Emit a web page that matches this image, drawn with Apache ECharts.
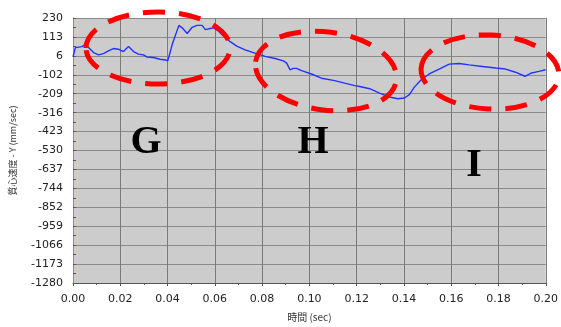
<!DOCTYPE html>
<html>
<head>
<meta charset="utf-8">
<script src="https://cdn.jsdelivr.net/npm/echarts@6/dist/echarts.min.js"></script>
<style>
html,body{margin:0;padding:0;background:#fff;}
#c{width:561px;height:327px;}
</style>
</head>
<body>
<div id="c"></div>
<script>
// time (sec)
var timeSec = [0.0000,0.0010,0.0038,0.0052,0.0087,0.0108,0.0129,0.0150,0.0171,0.0192,0.0213,0.0235,0.0256,0.0277,0.0298,0.0312,0.0340,0.0368,0.0392,0.0401,0.0420,0.0448,0.0462,0.0483,0.0504,0.0525,0.0546,0.0560,0.0581,0.0595,0.0616,0.0637,0.0665,0.0693,0.0728,0.0763,0.0813,0.0855,0.0890,0.0904,0.0918,0.0932,0.0946,0.0967,0.1009,0.1051,0.1107,0.1149,0.1192,0.1213,0.1255,0.1297,0.1339,0.1374,0.1402,0.1423,0.1444,0.1472,0.1507,0.1549,0.1592,0.1634,0.1676,0.1732,0.1788,0.1830,0.1872,0.1912,0.1936,0.1971,0.1999];
// COM velocity Y (mm/sec)
var velocityY = [8,61,67,80,33,20,27,42,56,52,39,67,39,24,20,8,5,-5,-9,-14,80,188,174,142,177,188,188,164,170,174,155,126,95,70,48,33,11,-1,-14,-27,-65,-57,-57,-70,-89,-113,-127,-141,-155,-160,-173,-198,-220,-230,-226,-207,-164,-123,-89,-61,-33,-29,-37,-46,-55,-61,-79,-102,-85,-74,-65];
// y tick labels (bottom to top)
var yTickLabels = ['-1280','-1173','-1066','-959','-852','-744','-637','-530','-423','-316','-209','-102','6','113','230'];
var yMin = -1280, yMax = 230;
var xMin = 0, xMax = 0.2, xStep = 0.02;
var annotations = ['G','H','I'];

var yStep = (yMax - yMin) / (yTickLabels.length - 1);
var pts = timeSec.map(function(t,i){return [t, velocityY[i]];});

var chart = echarts.init(document.getElementById('c'), null, {renderer:'canvas'});
var ellipseStyle = {stroke:'#ff0000', lineWidth:5, fill:null, lineDash:[22,14]};
chart.setOption({
  animation:false,
  grid:{left:72, right:14, top:18, bottom:40, show:true, backgroundColor:'#cccccc', borderWidth:0},
  xAxis:{
    type:'value', min:xMin, max:xMax, interval:xStep,
    name:'時間 (sec)', nameLocation:'middle', nameGap:29,
    nameTextStyle:{fontSize:10, color:'#333', fontFamily:'Noto Sans CJK JP'},
    axisLine:{onZero:false, lineStyle:{color:'#555', width:1}},
    axisTick:{show:true, length:3, lineStyle:{color:'#555'}},
    minorTick:{show:true, splitNumber:2, length:2, lineStyle:{color:'#555'}},
    splitLine:{show:true, lineStyle:{color:'#7a7a7a', width:1}},
    axisLabel:{margin:11, fontSize:11, color:'#222', fontFamily:'DejaVu Sans',
      formatter:function(v){return v.toFixed(2);}}
  },
  yAxis:{
    type:'value', min:yMin, max:yMax, interval:yStep,
    name:'質心速度 - Y (mm/sec)', nameLocation:'middle', nameGap:56,
    nameTextStyle:{fontSize:9, color:'#333', fontFamily:'Noto Sans CJK JP'},
    axisLine:{show:true, onZero:false, lineStyle:{color:'#ee6666', width:1}},
    axisTick:{show:true, inside:true, length:3, lineStyle:{color:'#555'}},
    minorTick:{show:true, splitNumber:2, length:3, lineStyle:{color:'#555'}},
    splitLine:{show:true, lineStyle:{color:'#8a8a8a', width:1}},
    axisLabel:{margin:10, fontSize:11, color:'#222', fontFamily:'DejaVu Sans',
      formatter:function(v){var i=Math.round((v-yMin)/yStep); return yTickLabels[i]||'';}}
  },
  series:[{
    type:'line', data:pts, showSymbol:false, smooth:false,
    lineStyle:{color:'#2233ff', width:1.4}
  }],
  graphic:[
    {type:'ellipse', x:158, y:48, shape:{cx:0, cy:0, rx:72, ry:36}, style:ellipseStyle, z:100},
    {type:'ellipse', x:326, y:71, rotation:-0.13, shape:{cx:0, cy:0, rx:71, ry:39}, style:ellipseStyle, z:100},
    {type:'ellipse', x:490, y:72, rotation:-0.05, shape:{cx:0, cy:0, rx:69, ry:37}, style:ellipseStyle, z:100},
    {type:'text', x:146, y:143, style:{text:annotations[0], font:'bold 40px "Liberation Serif"', fill:'#000', textAlign:'center', textVerticalAlign:'middle'}, z:100},
    {type:'text', x:313, y:143, style:{text:annotations[1], font:'bold 40px "Liberation Serif"', fill:'#000', textAlign:'center', textVerticalAlign:'middle'}, z:100},
    {type:'text', x:474, y:166, style:{text:annotations[2], font:'bold 40px "Liberation Serif"', fill:'#000', textAlign:'center', textVerticalAlign:'middle'}, z:100}
  ]
});
</script>
</body>
</html>
